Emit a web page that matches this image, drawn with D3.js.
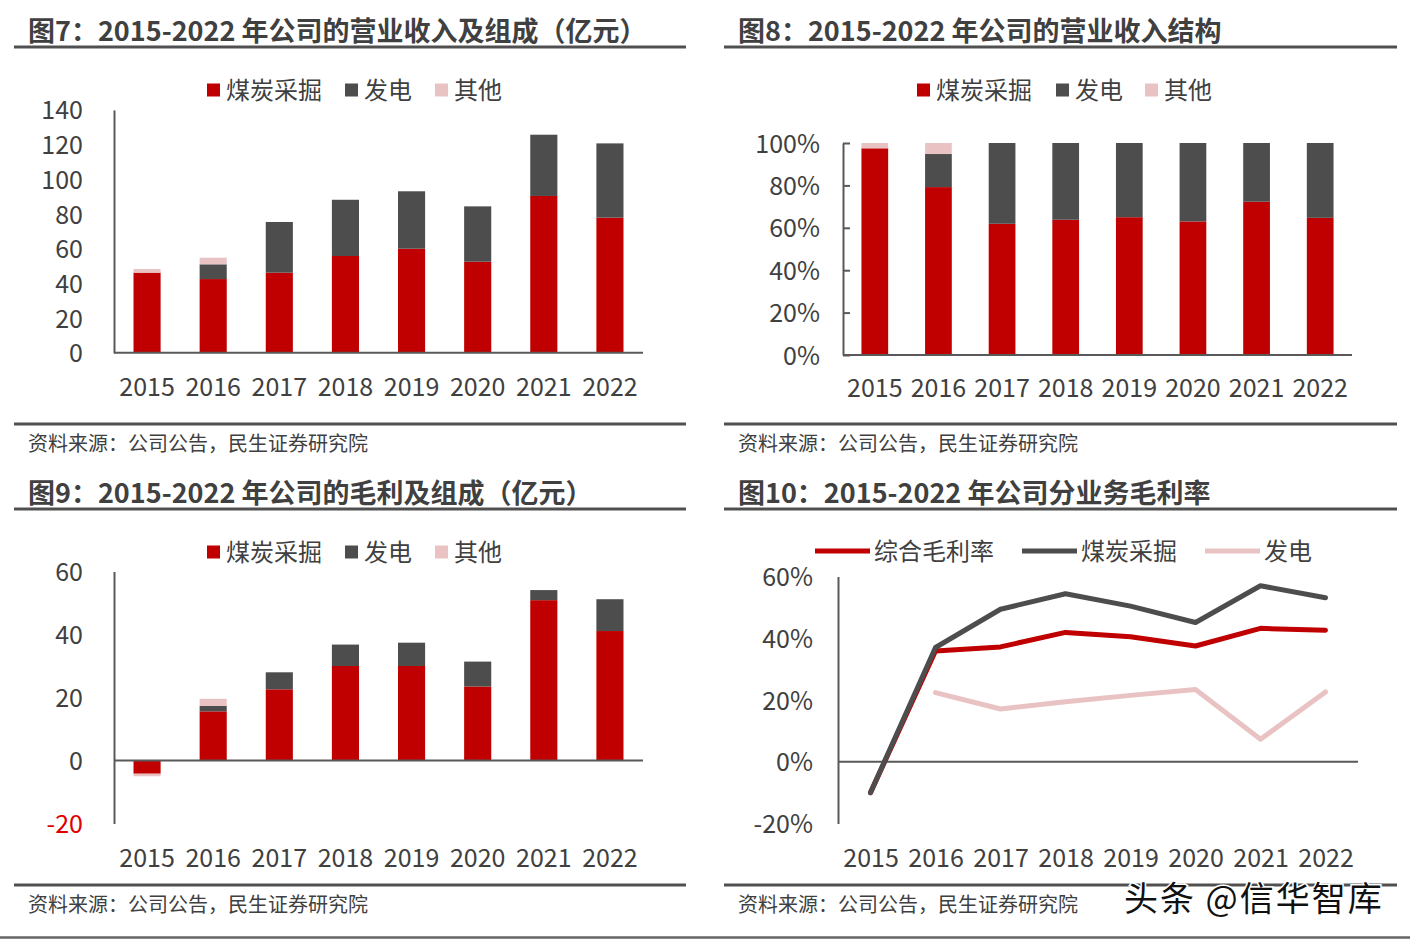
<!DOCTYPE html>
<html><head><meta charset="utf-8">
<script src="https://cdn.jsdelivr.net/npm/d3@7"></script>
<style>
body{margin:0;background:#fff}
svg{display:block}
text{font-family:"Noto Sans CJK SC","Noto Sans",sans-serif}
</style>
</head><body>
<svg id="c" width="1410" height="940"></svg>
<script>
// ---------- data ----------
const years = ['2015','2016','2017','2018','2019','2020','2021','2022'];
const seriesNames = ['煤炭采掘','发电','其他'];
const marginNames = ['综合毛利率','煤炭采掘','发电'];

// 图7 营业收入 (亿元)
const revCoal  = [46.2, 42.5, 46.2, 55.8, 60.0, 52.5, 90.4, 77.9];
const revPower = [0, 8.5, 29.2, 32.4, 33.1, 31.9, 35.3, 42.8];
const revOther = [2.1, 3.8, 0, 0, 0, 0, 0, 0];
const revTicks = [0, 20, 40, 60, 80, 100, 120, 140];

// 图8 营业收入结构 (%)
const shareCoal  = [97.5, 79.2, 61.9, 63.8, 65.0, 63.0, 72.3, 64.7];
const sharePower = [0, 15.6, 38.1, 36.2, 35.0, 37.0, 27.7, 35.3];
const shareOther = [2.5, 5.2, 0, 0, 0, 0, 0, 0];
const shareTicks = [0, 20, 40, 60, 80, 100];

// 图9 毛利 (亿元)
const gpCoal  = [-4.2, 15.6, 22.6, 30.0, 30.0, 23.5, 50.9, 41.1];
const gpPower = [0, 1.7, 5.4, 6.8, 7.4, 7.9, 3.2, 10.1];
const gpOther = [-0.8, 2.3, 0, 0, 0, 0, 0, 0];
const gpTicks = [-20, 0, 20, 40, 60];

// 图10 毛利率 (%)
const marginTotal = [-10.0, 35.9, 37.2, 41.9, 40.5, 37.5, 43.2, 42.6];
const marginCoal  = [-10.0, 37.0, 49.4, 54.4, 50.4, 45.1, 57.0, 53.1];
const marginPower = [null, 22.4, 17.1, 19.4, 21.5, 23.4, 7.3, 22.6];
const marginTicks = [-20, 0, 20, 40, 60];

const titles = [
  '图7：2015-2022 年公司的营业收入及组成（亿元）',
  '图8：2015-2022 年公司的营业收入结构',
  '图9：2015-2022 年公司的毛利及组成（亿元）',
  '图10：2015-2022 年公司分业务毛利率'
];
const source = '资料来源：公司公告，民生证券研究院';
const watermark = '头条 @信华智库';

// ---------- style ----------
const COL = {coal:'#C00000', power:'#4D4D4D', other:'#E9C3C3', text:'#404040', axis:'#595959', rule:'#505050'};
const seriesCols = [COL.coal, COL.power, COL.other];
const NUM_FS = 25;
const svg = d3.select('#c');

// ---------- frames ----------
function frame(x0, x1, title, titleY, ruleY, footRuleY, footY) {
  svg.append('text').attr('x', x0 + 14).attr('y', titleY)
    .attr('font-size', 27).attr('font-weight', 700).attr('fill', COL.text).text(title);
  svg.append('line').attr('x1', x0).attr('x2', x1).attr('y1', ruleY).attr('y2', ruleY)
    .attr('stroke', COL.rule).attr('stroke-width', 3);
  svg.append('line').attr('x1', x0).attr('x2', x1).attr('y1', footRuleY).attr('y2', footRuleY)
    .attr('stroke', COL.rule).attr('stroke-width', 3);
  svg.append('text').attr('x', x0 + 14).attr('y', footY)
    .attr('font-size', 20).attr('fill', COL.text).text(source);
}
frame(14, 686, titles[0], 41, 47, 424, 451);
frame(724, 1397, titles[1], 41, 47, 424, 451);
frame(14, 686, titles[2], 503, 509, 885, 912);
frame(724, 1397, titles[3], 503, 509, 885, 912);
svg.append('line').attr('x1', 0).attr('x2', 1410).attr('y1', 937.5).attr('y2', 937.5)
  .attr('stroke', '#666').attr('stroke-width', 2.5);

// ---------- legends ----------
function squareLegend(xs, cy) {
  const g = svg.append('g');
  seriesNames.forEach((n, i) => {
    g.append('rect').attr('x', xs[i]).attr('y', cy - 6.5).attr('width', 13).attr('height', 13).attr('fill', seriesCols[i]);
    g.append('text').attr('x', xs[i] + 19).attr('y', cy).attr('dy', '0.36em')
      .attr('font-size', 24).attr('fill', COL.text).text(n);
  });
}
squareLegend([207, 345, 435], 90);
squareLegend([917, 1056, 1145], 90);
squareLegend([207, 345, 435], 552);

function styleNums(sel, fill) {
  sel.attr('font-size', NUM_FS).attr('font-family', '"Noto Sans CJK SC",sans-serif')
    .attr('fill', fill || COL.text).attr('dy', '0.36em');
}

// ---------- stacked bar panels ----------
function stackedPanel(o) {
  const g = svg.append('g');
  const x = d3.scaleBand().domain(years).range([o.x0, o.x1]).paddingInner(o.pad).paddingOuter(o.pad / 2);
  const y = d3.scaleLinear().domain(o.domain).range([o.yBottom, o.yTop]);
  const rows = years.map((yr, i) => ({year: yr, coal: o.coal[i], power: o.power[i], other: o.other[i]}));
  const stacked = d3.stack().keys(['coal', 'power', 'other']).offset(d3.stackOffsetDiverging)(rows);
  g.selectAll('g.s').data(stacked).join('g').attr('class', 's').attr('fill', d => COL[d.key])
    .selectAll('rect').data(d => d).join('rect')
    .attr('x', d => x(d.data.year)).attr('width', x.bandwidth())
    .attr('y', d => y(Math.max(d[0], d[1])))
    .attr('height', d => Math.abs(y(d[0]) - y(d[1])));

  const ya = d3.axisLeft(y).tickValues(o.ticks).tickFormat(o.fmt)
    .tickSizeInner(o.inTicks ? -7 : 0).tickSizeOuter(0).tickPadding(o.padY);
  const gy = g.append('g').attr('transform', `translate(${o.x0},0)`).call(ya);
  gy.select('.domain').attr('stroke', COL.axis).attr('stroke-width', 2);
  gy.selectAll('.tick line').attr('stroke', COL.axis).attr('stroke-width', 2);
  styleNums(gy.selectAll('.tick text'));
  if (o.redNeg) gy.selectAll('.tick text').attr('fill', d => d < 0 ? '#E00000' : COL.text);

  const gz = g.append('g').attr('transform', `translate(0,${y(0)})`).call(d3.axisBottom(x).tickSize(0).tickFormat(''));
  gz.select('.domain').attr('stroke', COL.axis).attr('stroke-width', 2).attr('d', `M${o.x0},0H${o.x1}`);

  const gl = g.append('g').attr('transform', `translate(0,${o.labelY})`).call(d3.axisBottom(x).tickSize(0).tickPadding(0));
  gl.select('.domain').remove();
  styleNums(gl.selectAll('.tick text').attr('y', 0));
}

stackedPanel({x0: 114, x1: 643, yBottom: 352.8, yTop: 109.9, domain: [0, 140], pad: 0.59,
  coal: revCoal, power: revPower, other: revOther, ticks: revTicks, fmt: d => d,
  padY: 31, labelY: 387});
stackedPanel({x0: 843, x1: 1352, yBottom: 355, yTop: 143, domain: [0, 100], pad: 0.58,
  coal: shareCoal, power: sharePower, other: shareOther, ticks: shareTicks, fmt: d => d + '%',
  padY: 23, labelY: 388, inTicks: true});
stackedPanel({x0: 114, x1: 643, yBottom: 823.5, yTop: 571.5, domain: [-20, 60], pad: 0.59,
  coal: gpCoal, power: gpPower, other: gpOther, ticks: gpTicks, fmt: d => d,
  padY: 31, labelY: 858, redNeg: true});

// ---------- line panel ----------
(function () {
  const x0 = 838, x1 = 1358;
  const g = svg.append('g');
  const x = d3.scalePoint().domain(years).range([x0, x1]).padding(0.5);
  const y = d3.scaleLinear().domain([-20, 60]).range([823.5, 576.5]);

  const ya = d3.axisLeft(y).tickValues(marginTicks).tickFormat(d => d + '%').tickSize(0).tickPadding(25);
  const gy = g.append('g').attr('transform', `translate(${x0},0)`).call(ya);
  gy.select('.domain').attr('stroke', COL.axis).attr('stroke-width', 2);
  styleNums(gy.selectAll('.tick text'));

  const gz = g.append('g').attr('transform', `translate(0,${y(0)})`).call(d3.axisBottom(x).tickSize(0).tickFormat(''));
  gz.select('.domain').attr('stroke', COL.axis).attr('stroke-width', 2).attr('d', `M${x0},0H${x1}`);

  const gl = g.append('g').attr('transform', 'translate(0,858)').call(d3.axisBottom(x).tickSize(0).tickPadding(0));
  gl.select('.domain').remove();
  styleNums(gl.selectAll('.tick text').attr('y', 0));

  const line = d3.line().defined(d => d[1] != null).x(d => x(d[0])).y(d => y(d[1]));
  const series = [
    {vals: marginTotal, col: COL.coal},
    {vals: marginCoal, col: COL.power},
    {vals: marginPower, col: COL.other}
  ];
  series.forEach(s => {
    g.append('path').attr('d', line(years.map((yr, i) => [yr, s.vals[i]])))
      .attr('fill', 'none').attr('stroke', s.col).attr('stroke-width', 5)
      .attr('stroke-linejoin', 'round').attr('stroke-linecap', 'round');
  });

  const lx = [815, 1022, 1205];
  marginNames.forEach((n, i) => {
    svg.append('line').attr('x1', lx[i]).attr('x2', lx[i] + 55).attr('y1', 551).attr('y2', 551)
      .attr('stroke', series[i].col).attr('stroke-width', 5);
    svg.append('text').attr('x', lx[i] + 59).attr('y', 551).attr('dy', '0.36em')
      .attr('font-size', 24).attr('fill', COL.text).text(n);
  });
})();

// ---------- watermark ----------
svg.append('text').attr('x', 1124).attr('y', 911).attr('font-size', 34).attr('letter-spacing', 2)
  .attr('fill', '#111').attr('stroke', '#fff').attr('stroke-width', 3).attr('paint-order', 'stroke')
  .text(watermark);
</script>
</body></html>
